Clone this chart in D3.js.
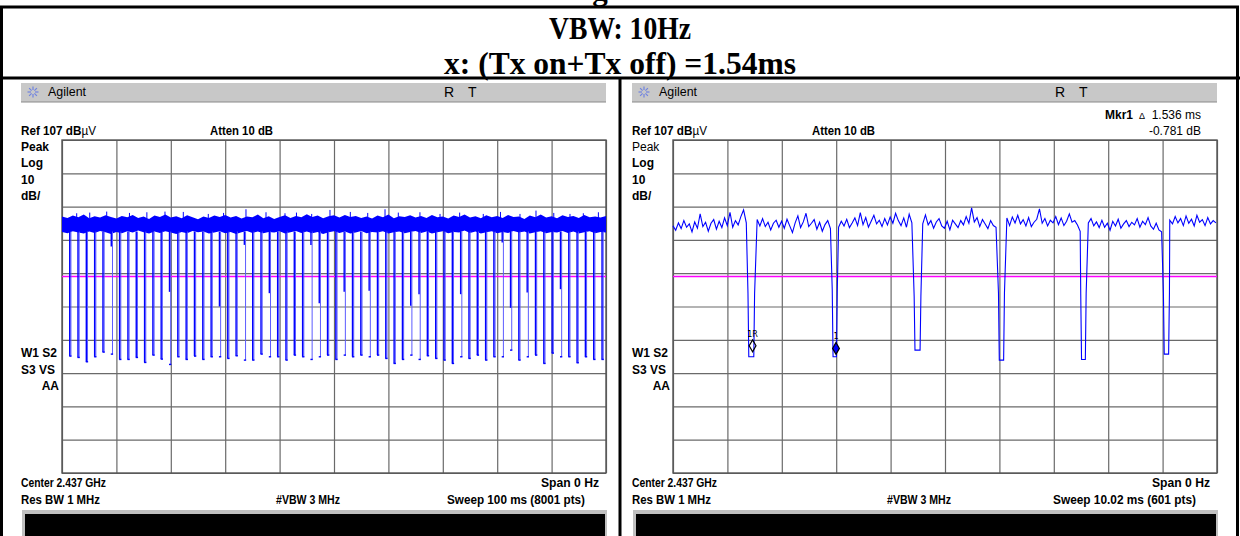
<!DOCTYPE html>
<html>
<head>
<meta charset="utf-8">
<script src="https://cdn.jsdelivr.net/npm/d3@7"></script>
<style>
  body { margin: 0; background: #fff; }
  .scr { font-family: "Liberation Sans", Arial, sans-serif; font-size: 12px; fill: #000; }
  .b { font-weight: bold; }
  .title { font-family: "Liberation Serif", "Times New Roman", serif; font-weight: bold; font-size: 31px; }
</style>
</head>
<body>
<svg width="1240" height="536"></svg>
<script>
// ---- chart values ----
var titleLines = ["VBW: 10Hz", "x: (Tx on+Tx off) =1.54ms"];

var refLevel = 107, dbPerDiv = 10, divisions = 10, displayLine = 66;

// left screen, 100 ms sweep: band envelope sampled every 1 ms
var leftSweep = 100, leftBandStep = 1;
var leftBandUpper = [
  84.0, 83.6, 84.3, 83.8, 84.6, 83.5, 84.1, 83.7, 84.4, 83.9,
  83.4, 84.2, 83.8, 84.5, 83.6, 84.0, 83.3, 84.3, 83.9, 84.6,
  83.7, 84.1, 83.5, 84.4, 83.8, 83.2, 84.0, 83.6, 84.3, 83.9,
  84.5, 83.7, 84.2, 83.4, 84.0, 83.8, 84.6, 83.5, 84.1, 83.3,
  83.9, 84.4, 83.6, 84.2, 83.8, 84.7, 83.9, 84.3, 83.5, 84.1,
  84.4, 83.7, 84.5, 83.9, 84.2, 83.6, 84.0, 83.4, 84.3, 83.8,
  84.6, 83.5, 84.1, 83.9, 84.4, 83.7, 84.2, 83.6, 84.5, 83.8,
  84.0, 83.4, 84.3, 83.9, 84.6, 83.7, 84.1, 83.5, 84.4, 83.8,
  84.2, 83.6, 84.5, 83.9, 84.0, 83.3, 84.3, 83.8, 84.6, 83.7,
  84.1, 83.5, 84.4, 83.9, 84.2, 83.6, 84.5, 83.8, 84.0, 83.7, 84.2];
var leftBandLower = [
  79.4, 79.0, 79.6, 79.2, 78.9, 79.5, 79.1, 79.7, 79.3, 78.8,
  79.4, 79.0, 79.6, 79.2, 79.8, 79.3, 78.9, 79.5, 79.1, 79.6,
  79.2, 78.8, 79.4, 79.0, 79.7, 79.3, 79.5, 78.9, 79.2, 79.6,
  79.0, 79.4, 78.8, 79.3, 79.7, 79.1, 79.5, 79.0, 79.4, 79.2,
  79.6, 78.9, 79.3, 79.7, 79.1, 79.5, 79.0, 79.4, 78.8, 79.3,
  79.6, 79.1, 79.5, 78.9, 79.2, 79.7, 79.0, 79.4, 79.2, 79.6,
  78.9, 79.3, 79.5, 79.0, 79.4, 79.7, 79.1, 79.5, 78.9, 79.3,
  79.6, 79.0, 79.4, 79.2, 79.8, 79.1, 79.5, 78.9, 79.3, 79.6,
  79.0, 79.4, 79.1, 79.7, 79.2, 79.5, 78.9, 79.3, 79.6, 79.0,
  79.4, 79.2, 79.7, 79.1, 79.5, 78.9, 79.3, 79.6, 79.0, 79.4, 79.2];
var leftSpikeTimes = [2.70, 5.10, 8.22, 12.4, 15.6, 18.93, 22.3, 26.89, 29.7, 33.82, 37.5, 40.99,
  43.1, 45.90, 49.26, 53.0, 56.2, 59.38, 61.82, 65.8, 69.49, 73.1, 77.44, 80.6, 84.19, 87.13,
  90.4, 93.38, 95.83, 98.6];
var leftSpikeLevels = [85.0, 85.2, 85.5, 85.1, 85.3, 85.5, 85.4, 84.8, 85.1, 86.2, 85.3, 85.0,
  85.2, 84.8, 86.0, 85.4, 85.1, 86.2, 85.2, 85.3, 84.8, 85.2, 84.8, 85.4, 84.8, 85.8,
  85.1, 84.8, 85.0, 85.3];
// the off-times (dips) of the 100 ms sweep
var leftDipTimes = [1.42, 2.94, 4.47, 6.00, 7.53, 9.06, 10.59, 12.12, 13.65, 15.18,
  16.71, 18.23, 19.76, 21.29, 22.82, 24.35, 25.88, 27.41, 28.94, 30.47,
  32.00, 33.52, 35.05, 36.58, 38.11, 39.64, 41.17, 42.70, 44.23, 45.76,
  47.29, 48.81, 50.34, 51.87, 53.40, 54.93, 56.46, 57.99, 59.52, 61.05,
  62.58, 64.10, 65.63, 67.16, 68.69, 70.22, 71.75, 73.28, 74.81, 76.34,
  77.87, 79.39, 80.92, 82.45, 83.98, 85.51, 87.04, 88.57, 90.10, 91.63,
  93.16, 94.68, 96.21, 97.74, 99.27];
var leftDipMin = [42.1, 41.7, 40.4, 41.9, 43.3, 42.7, 41.1, 41.1, 41.7, 40.2,
  42.4, 41.2, 39.6, 41.9, 41.1, 42.1, 41.1, 41.9, 41.9, 41.4,
  42.2, 40.9, 40.9, 42.7, 41.9, 41.9, 40.9, 42.4, 41.9, 41.1,
  41.9, 42.4, 41.1, 42.4, 41.9, 42.4, 41.9, 42.4, 41.4, 39.9,
  41.1, 42.4, 41.1, 42.2, 41.4, 40.9, 39.9, 41.9, 41.4, 42.4,
  40.9, 41.9, 41.9, 43.9, 40.9, 41.9, 42.4, 39.9, 43.0, 41.9,
  41.9, 40.1, 41.9, 41.1, 41.1];
// where the solid stroke of a dip stops (null = solid to the bottom)
var leftDipSolid = [null, null, null, null, null, 75.0, null, null, null, null,
  null, null, 61.4, null, null, null, null, null, 57.0, null,
  null, 75.5, null, null, 61.0, null, null, null, null, 75.5,
  58.0, null, null, 61.4, null, null, 61.7, null, null, null,
  null, 57.2, 60.7, null, null, null, null, 60.7, null, null,
  null, null, 76.2, 56.6, null, 61.2, null, null, null, 62.2,
  null, null, null, null, null];

// right screen, 10.02 ms sweep: trace sampled every 0.05 ms
var rightSweep = 10.02, rightStep = 0.05;
var rightLevels = [
  81.2, 79.9, 82.1, 80.4, 82.8, 80.8, 81.8, 79.4, 82.4, 80.5,
  84.8, 81.0, 82.3, 79.6, 82.0, 83.1, 80.2, 82.6, 80.7, 83.6,
  81.3, 85.3, 80.8, 82.8, 81.5, 84.0, 86.0, 82.1, 80.4, 79.6,
  85.3, 83.1, 81.2, 83.4, 81.0, 82.3, 80.0, 82.0, 82.9, 80.8,
  82.6, 80.5, 83.2, 81.2, 79.2, 82.1, 84.2, 80.7, 82.4, 85.0,
  81.0, 82.0, 83.1, 80.2, 82.3, 79.6, 81.6, 82.8, 80.4, 79.9,
  78.8, 80.8, 82.6, 81.2, 83.2, 80.7, 82.1, 83.6, 81.3, 85.2,
  81.6, 83.7, 80.8, 82.6, 84.4, 81.8, 82.9, 81.0, 83.4, 81.5,
  83.9, 82.0, 85.0, 82.8, 81.3, 83.6, 80.8, 84.7, 82.1, 83.2,
  80.4, 83.7, 81.8, 84.5, 81.5, 82.8, 80.5, 82.4, 83.4, 81.2,
  80.5, 82.6, 80.0, 82.9, 81.8, 80.7, 82.8, 81.5, 84.0, 82.0,
  86.6, 82.4, 83.7, 81.0, 83.1, 81.8, 80.4, 82.8, 81.3, 80.8,
  79.6, 79.9, 82.6, 83.6, 81.3, 83.9, 82.1, 84.4, 81.8, 83.1,
  81.2, 83.7, 81.0, 82.3, 83.2, 86.3, 82.0, 83.4, 81.2, 82.9,
  82.1, 84.0, 81.6, 83.6, 81.3, 82.6, 84.8, 82.3, 82.8, 81.5,
  79.6, 80.4, 84.2, 82.1, 83.4, 81.2, 82.4, 80.7, 82.9, 80.8,
  82.0, 79.9, 82.6, 81.2, 83.2, 80.5, 81.8, 82.8, 81.0, 82.3,
  81.5, 83.4, 80.8, 82.6, 81.6, 83.7, 81.2, 80.2, 82.0, 80.0,
  79.4, 80.0, 80.4, 82.9, 81.8, 84.0, 82.1, 83.4, 81.3, 84.2,
  82.0, 83.2, 81.2, 84.4, 82.3, 83.1, 81.3, 83.7, 81.8, 82.8,
  82.1];
var rightDipStart = [1.381, 2.933, 4.442, 5.995, 7.510, 9.033];
var rightDipEnd = [1.503, 3.026, 4.566, 6.105, 7.610, 9.144];
var rightDipBottom = [41.9, 41.9, 43.9, 40.9, 41.1, 42.7];
var rightDipShoulder = [61, 62, 60, 61, 61, 61];
var markerTimes = [1.466, 3.002];
var markerLevels = [45.2, 44.42];
var markerLabels = ["1R", "1"];

var leftText = {
  ref: "Ref 107 dB", atten: "Atten 10 dB",
  side: ["Peak", "Log", "10", "dB/"], flags: ["W1 S2", "S3  VS", "AA"],
  center: "Center 2.437 GHz", span: "Span 0 Hz", rbw: "Res BW 1 MHz",
  vbw: "#VBW 3 MHz", sweep: "Sweep 100 ms (8001 pts)"
};
var rightText = {
  ref: "Ref 107 dB", atten: "Atten 10 dB",
  side: ["Peak", "Log", "10", "dB/"], flags: ["W1 S2", "S3  VS", "AA"],
  center: "Center 2.437 GHz", span: "Span 0 Hz", rbw: "Res BW 1 MHz",
  vbw: "#VBW 3 MHz", sweep: "Sweep 10.02 ms (601 pts)",
  mkr: "1.536 ms", mkrDb: "-0.781 dB"
};

// ---- drawing ----
var svg = d3.select("svg");
var blue = "#0000ff", lightBlue = "#5c5cff";

// page frame and titles
svg.append("rect").attr("x", 1.5).attr("y", 7).attr("width", 1236).attr("height", 540)
  .attr("fill", "none").attr("stroke", "#000").attr("stroke-width", 3);
svg.append("text").attr("class", "title").attr("x", 600).attr("y", 0)
  .attr("text-anchor", "middle").text("g");
svg.append("line").attr("x1", 0).attr("x2", 1240).attr("y1", 78).attr("y2", 78)
  .attr("stroke", "#000").attr("stroke-width", 3);
svg.append("line").attr("x1", 620).attr("x2", 620).attr("y1", 78).attr("y2", 536)
  .attr("stroke", "#000").attr("stroke-width", 3);
var titleLen = [142, 352];
svg.selectAll("text.tl").data(titleLines).enter().append("text")
  .attr("class", "title tl").attr("x", 620).attr("y", function (d, i) { return 39 + i * 35; })
  .attr("text-anchor", "middle")
  .attr("textLength", function (d, i) { return titleLen[i]; }).attr("lengthAdjust", "spacingAndGlyphs")
  .text(function (d) { return d; });

function label(g, x, y, s, bold, anchor, len) {
  var t = g.append("text").attr("class", bold ? "scr b" : "scr").attr("x", x).attr("y", y).text(s);
  if (anchor) t.attr("text-anchor", anchor);
  if (len) t.attr("textLength", len).attr("lengthAdjust", "spacingAndGlyphs");
  return t;
}

function drawScreen(off, txt, sweep, boldPeak, sweepLen) {
  var g = svg.append("g").attr("transform", "translate(" + off + ",0)");

  // title bar
  g.append("rect").attr("x", 21).attr("y", 83).attr("width", 585).attr("height", 19).attr("fill", "#c8c8c8");
  g.append("line").attr("x1", 21).attr("x2", 606).attr("y1", 102).attr("y2", 102).attr("stroke", "#8a8a8a");
  var star = g.append("g").attr("transform", "translate(33,92)");
  d3.range(8).forEach(function (k) {
    var a = k * Math.PI / 4;
    star.append("line").attr("x1", 2 * Math.cos(a)).attr("y1", 2 * Math.sin(a))
      .attr("x2", 5.5 * Math.cos(a)).attr("y2", 5.5 * Math.sin(a))
      .attr("stroke", "#6f82e0").attr("stroke-width", 1.2);
  });
  label(g, 48, 96, "Agilent", false, null, 38);
  label(g, 444, 97, "R").style("font-size", "14px");
  label(g, 468, 97, "T").style("font-size", "14px");

  var x = d3.scaleLinear().domain([0, sweep]).range([62, 606]);
  var y = d3.scaleLinear().domain([refLevel - dbPerDiv * divisions, refLevel]).range([473, 140]);

  // graticule from the axes
  var xt = d3.range(divisions + 1).map(function (i) { return sweep * i / divisions; });
  var yt = d3.range(divisions + 1).map(function (i) { return refLevel - dbPerDiv * i; });
  var gx = g.append("g").attr("transform", "translate(0,473)")
    .call(d3.axisBottom(x).tickValues(xt).tickSize(-333).tickFormat(""));
  var gy = g.append("g").attr("transform", "translate(62,0)")
    .call(d3.axisLeft(y).tickValues(yt).tickSize(-544).tickFormat(""));
  [gx, gy].forEach(function (a) {
    a.select(".domain").remove();
    a.selectAll("line").attr("stroke", "#6a6a6a").attr("stroke-width", 1.2);
  });
  g.append("rect").attr("x", 62).attr("y", 140).attr("width", 544).attr("height", 333)
    .attr("fill", "none").attr("stroke", "#555").attr("stroke-width", 1.4);

  // display line
  g.append("line").attr("x1", 62).attr("x2", 606).attr("y1", y(displayLine)).attr("y2", y(displayLine))
    .attr("stroke", "#ff00ff").attr("stroke-width", 1.6);

  // labels
  var ref = label(g, 21, 135, txt.ref, true, null, 75);
  ref.append("tspan").style("font-weight", "normal").text("\u00b5V");
  label(g, off ? 201 : 210, 135, txt.atten, true, null, 63);
  txt.side.forEach(function (s, i) {
    label(g, 21, 151 + i * 16.3, s, !(i === 0 && !boldPeak));
  });
  txt.flags.forEach(function (s, i) {
    label(g, i === 2 ? 59 : 21, 357 + i * 16.5, s, true, i === 2 ? "end" : null);
  });
  label(g, 21, 487, txt.center, true, null, 85);
  label(g, 599, 487, txt.span, true, "end", 58);
  label(g, 21, 504, txt.rbw, true, null, 79);
  label(g, 276, 504, txt.vbw, true, null, 64);
  label(g, 585, 504, txt.sweep, true, "end", sweepLen);

  // message bar
  g.append("rect").attr("x", 22).attr("y", 510).attr("width", 585).attr("height", 30).attr("fill", "#c0c0c0");
  g.append("rect").attr("x", 25).attr("y", 514).attr("width", 580).attr("height", 26).attr("fill", "#000");

  return { g: g, x: x, y: y };
}

// left screen
var L = drawScreen(0, leftText, leftSweep, true, 138);
var bandArea = d3.area()
  .x(function (d, i) { return L.x(i * leftBandStep); })
  .y0(function (d, i) { return L.y(leftBandLower[i]); })
  .y1(function (d) { return L.y(d); });
L.g.append("path").datum(leftBandUpper).attr("d", bandArea).attr("fill", blue);
L.g.selectAll("line.spk").data(leftSpikeTimes).enter().append("line").attr("class", "spk")
  .attr("x1", function (d) { return L.x(d); }).attr("x2", function (d) { return L.x(d); })
  .attr("y1", L.y(83.5)).attr("y2", function (d, i) { return L.y(leftSpikeLevels[i]); })
  .attr("stroke", blue).attr("stroke-width", 1);
leftDipTimes.forEach(function (t, i) {
  var xx = L.x(t), solid = leftDipSolid[i];
  L.g.append("line").attr("x1", xx + 1.2).attr("x2", xx + 1.2)
    .attr("y1", L.y(79.5)).attr("y2", L.y(leftDipMin[i]))
    .attr("stroke", lightBlue).attr("stroke-width", 1);
  L.g.append("line").attr("x1", xx).attr("x2", xx)
    .attr("y1", L.y(79.5)).attr("y2", L.y(solid === null ? leftDipMin[i] : solid))
    .attr("stroke", blue).attr("stroke-width", 1.4);
  L.g.append("line").attr("x1", xx - 0.5).attr("x2", xx + 1.8)
    .attr("y1", L.y(leftDipMin[i])).attr("y2", L.y(leftDipMin[i]))
    .attr("stroke", blue).attr("stroke-width", 1.4);
});

// right screen
var R = drawScreen(611, rightText, rightSweep, false, 143);
label(R.g, 494, 119, "Mkr1", true);
label(R.g, 528, 119, "\u0394").style("font-size", "9px");
label(R.g, 590, 119, rightText.mkr, false, "end");
label(R.g, 590, 135, rightText.mkrDb, false, "end");

var pts = [];
rightLevels.forEach(function (v, i) {
  var t = i * rightStep, inside = false;
  rightDipStart.forEach(function (s, k) { if (t >= s && t <= rightDipEnd[k]) inside = true; });
  if (!inside) pts.push([t, v]);
});
rightDipStart.forEach(function (s, k) {
  var e = rightDipEnd[k];
  pts.push([s, rightDipShoulder[k]], [s + 0.015, rightDipBottom[k]],
    [e - 0.015, rightDipBottom[k]], [e, rightDipShoulder[k]]);
});
pts.sort(function (a, b) { return a[0] - b[0]; });
var traceLine = d3.line().x(function (d) { return R.x(d[0]); }).y(function (d) { return R.y(d[1]); });
R.g.append("path").datum(pts).attr("d", traceLine).attr("fill", "none")
  .attr("stroke", blue).attr("stroke-width", 1.1);

markerTimes.forEach(function (t, i) {
  var mx = R.x(t), my = R.y(markerLevels[i]);
  R.g.append("path").attr("d", d3.symbol(d3.symbolDiamond, 40)())
    .attr("transform", "translate(" + mx + "," + my + ")")
    .attr("fill", i === 0 ? "none" : blue).attr("stroke", "#000").attr("stroke-width", 1.2);
  R.g.append("text").attr("x", mx).attr("y", my - 9).attr("text-anchor", "middle")
    .style("font-family", "DejaVu Sans, sans-serif").style("font-size", "8px").text(markerLabels[i]);
});
</script>
</body>
</html>
